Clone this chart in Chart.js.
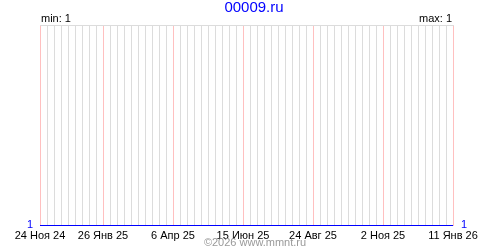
<!DOCTYPE html>
<html>
<head>
<meta charset="utf-8">
<script src="https://cdn.jsdelivr.net/npm/chart.js@4"></script>
<style>
  html, body { margin: 0; padding: 0; background: #fff; }
  #wrap { width: 500px; height: 250px; }
</style>
</head>
<body>
<div id="wrap"><canvas id="chart" width="500" height="250"></canvas></div>
<script>
const titleText = '00009.ru';
const footerText = '\u00a92026 www.mmnt.ru';

// series: one point per end of the period, value 1 throughout
const pointDates = ['2024-11-24', '2026-01-11'];
const pointValues = [1, 1];

// labelled (red) grid dates and their captions
const tickDates = ['2024-11-24', '2025-01-26', '2025-04-06', '2025-06-15', '2025-08-24', '2025-11-02', '2026-01-11'];
const tickLabels = ['24 Ноя 24', '26 Янв 25', '6 Апр 25', '15 Июн 25', '24 Авг 25', '2 Ноя 25', '11 Янв 26'];

const minValue = 1;
const maxValue = 1;

const DAY = 86400000;
const startMs = Date.parse(pointDates[0]);
const toDay = d => Math.round((Date.parse(d) - startMs) / DAY);

const lastDay = toDay(pointDates[pointDates.length - 1]);
const labelDays = tickDates.map(toDay);
const weekDays = [];
for (let d = 0; d <= lastDay; d += 7) weekDays.push(d);

const font = '"Liberation Sans", Arial, sans-serif';

const textPlugin = {
  id: 'texts',
  afterDraw(chart) {
    const { ctx, chartArea: a } = chart;
    ctx.save();
    // top border
    ctx.strokeStyle = '#dcdcdc';
    ctx.lineWidth = 1;
    ctx.beginPath();
    ctx.moveTo(a.left, Math.round(a.top) + 0.5);
    ctx.lineTo(a.right + 1, Math.round(a.top) + 0.5);
    ctx.stroke();

    ctx.fillStyle = '#0000ff';
    ctx.font = '15px ' + font;
    ctx.textAlign = 'center';
    ctx.textBaseline = 'middle';
    ctx.fillText(titleText, 254, 8);

    ctx.fillStyle = '#999999';
    ctx.font = '11px ' + font;
    ctx.fillText(footerText, 255, 243);

    ctx.fillStyle = '#000';
    ctx.textBaseline = 'alphabetic';
    ctx.textAlign = 'left';
    ctx.fillText('min: ' + minValue, a.left + 1, 22);
    ctx.textAlign = 'right';
    ctx.fillText('max: ' + maxValue, a.right - 1, 22);

    const y = chart.scales.y.getPixelForValue(pointValues[0]);
    ctx.fillStyle = '#0000ff';
    ctx.textBaseline = 'middle';
    ctx.textAlign = 'center';
    ctx.fillText(String(pointValues[0]), a.left - 10, y - 1);
    ctx.fillText(String(pointValues[pointValues.length - 1]), a.right + 11, y - 1);
    ctx.restore();
  }
};

new Chart(document.getElementById('chart'), {
  type: 'line',
  data: {
    datasets: [{
      data: pointDates.map((d, i) => ({ x: toDay(d), y: pointValues[i] })),
      borderColor: '#0000ff',
      borderWidth: 1,
      pointRadius: 0,
      tension: 0,
      clip: 3
    }]
  },
  options: {
    responsive: false,
    animation: false,
    events: [],
    layout: { padding: { left: 40, right: 47, top: 25, bottom: 0 } },
    plugins: { legend: { display: false }, tooltip: { enabled: false } },
    scales: {
      x: {
        type: 'linear',
        min: 0,
        max: lastDay,
        afterBuildTicks: s => { s.ticks = weekDays.map(v => ({ value: v })); },
        afterFit: s => { s.height = 24.5; },
        border: { display: false },
        grid: {
          drawTicks: false,
          lineWidth: 1,
          color: c => labelDays.includes(c.tick.value) ? '#ffc0c0' : '#dcdcdc'
        },
        ticks: {
          autoSkip: false,
          maxRotation: 0,
          padding: 4,
          color: '#000',
          font: { family: font, size: 11 },
          callback: v => {
            const i = labelDays.indexOf(v);
            return i >= 0 ? tickLabels[i] : '';
          }
        }
      },
      y: {
        display: false,
        min: 1,
        max: 2
      }
    }
  },
  plugins: [textPlugin]
});
</script>
</body>
</html>
